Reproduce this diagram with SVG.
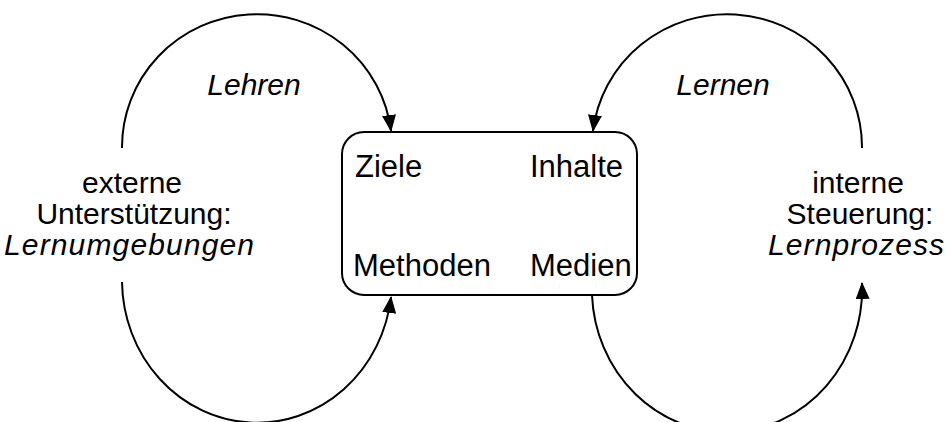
<svg xmlns="http://www.w3.org/2000/svg" width="949" height="422" viewBox="0 0 949 422">
  <style>
    .lbl { font-family: "Liberation Sans", Arial, sans-serif; font-size: 30px; fill: #000; }
    .cell { font-size: 31px; }
    .it { font-style: italic; }
    .mid { text-anchor: middle; }
    .loop { fill: none; stroke: #000; stroke-width: 2; }
    .box { fill: #fff; stroke: #000; stroke-width: 2; }
  </style>
  <defs>
    <marker id="arrow" viewBox="0 0 17 14" refX="16" refY="7" markerWidth="17" markerHeight="14" markerUnits="userSpaceOnUse" orient="auto">
      <path d="M0,0 L17,7 L0,14 z" fill="#000"/>
    </marker>
  </defs>

  <!-- loops around the central node -->
  <g id="connectors">
    <path class="loop" d="M122 148 A135 133 0 0 1 391 131" marker-end="url(#arrow)"/>
    <path class="loop" d="M122 282 A135 143 0 0 0 391 297" marker-end="url(#arrow)"/>
    <path class="loop" d="M862 148 A135 133 0 0 0 593 131" marker-end="url(#arrow)"/>
    <path class="loop" d="M592 295 A135 143 0 0 0 862 283" marker-end="url(#arrow)"/>
  </g>

  <g id="center-node">
    <rect class="box" x="342" y="132" width="295" height="163" rx="22" ry="22"/>
    <text class="lbl cell" x="355" y="177">Ziele</text>
    <text class="lbl cell" x="530" y="177">Inhalte</text>
    <text class="lbl cell" x="353" y="276">Methoden</text>
    <text class="lbl cell" x="530" y="276">Medien</text>
  </g>

  <g id="label-lehren">
    <text class="lbl it mid" x="254" y="95">Lehren</text>
  </g>

  <g id="label-lernen">
    <text class="lbl it mid" x="723" y="95">Lernen</text>
  </g>

  <g id="left-node">
    <text class="lbl mid" x="132" y="193">externe</text>
    <text class="lbl mid" x="134" y="224">Unterstützung:</text>
    <text class="lbl it mid" x="129" y="255" textLength="250" lengthAdjust="spacing">Lernumgebungen</text>
  </g>

  <g id="right-node">
    <text class="lbl mid" x="858" y="193">interne</text>
    <text class="lbl mid" x="860" y="224">Steuerung:</text>
    <text class="lbl it mid" x="856" y="255" textLength="176" lengthAdjust="spacing">Lernprozess</text>
  </g>
</svg>
